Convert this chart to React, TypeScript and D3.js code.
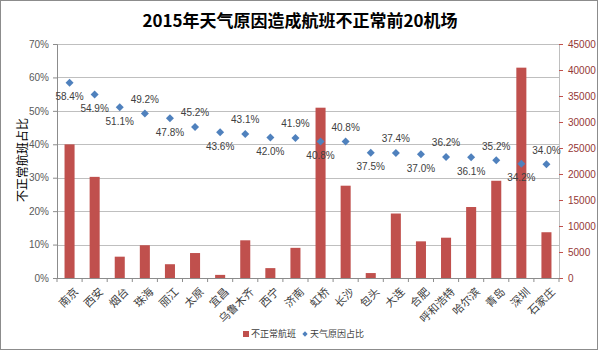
import React, { useEffect, useRef } from 'react';
import * as d3 from 'd3';

// Airports (x categories)
const airports = [
  '南京', '西安', '烟台', '珠海', '丽江', '太原', '宜昌', '乌鲁木齐', '西宁', '济南',
  '虹桥', '长沙', '包头', '大连', '合肥', '呼和浩特', '哈尔滨', '青岛', '深圳', '石家庄'
];

// 不正常航班 (right axis)
const abnormalFlights = [
  25700, 19450, 4100, 6300, 2650, 4800, 600, 7250, 1900, 5800,
  32750, 17750, 950, 12400, 7050, 7750, 13650, 18700, 40450, 8800
];

// 天气原因占比 (left axis, %)
const weatherShare = [
  58.4, 54.9, 51.1, 49.2, 47.8, 45.2, 43.6, 43.1, 42.0, 41.9,
  40.8, 40.8, 37.5, 37.4, 37.0, 36.2, 36.1, 35.2, 34.2, 34.0
];

const leftTicks = [0, 10, 20, 30, 40, 50, 60, 70];
const rightTicks = [0, 5000, 10000, 15000, 20000, 25000, 30000, 35000, 40000, 45000];

const title = '2015年天气原因造成航班不正常前20机场';
const yLabel = '不正常航班占比';
const barName = '不正常航班';
const pointName = '天气原因占比';

const W = 600;
const H = 351;
const CJK = '"Noto Sans CJK SC", "Noto Sans", sans-serif';

const App = () => {
  const ref = useRef<SVGSVGElement>(null);

  useEffect(() => {
    const svg = d3.select(ref.current);
    svg.selectAll('*').remove();

    const margin = { top: 44, right: 41, bottom: 73, left: 57 };
    const innerW = W - margin.left - margin.right;
    const innerH = H - margin.top - margin.bottom;

    // outer frame
    svg.append('rect')
      .attr('x', 0.5).attr('y', 0.5)
      .attr('width', W - 3).attr('height', H - 2)
      .attr('fill', '#fff')
      .attr('stroke', '#8c8c8c');

    svg.append('text')
      .attr('x', W / 2)
      .attr('y', 27)
      .attr('text-anchor', 'middle')
      .attr('font-family', CJK)
      .attr('font-weight', 'bold')
      .attr('font-size', '17px')
      .attr('fill', '#000')
      .text(title);

    const g = svg.append('g').attr('transform', `translate(${margin.left},${margin.top})`);

    const x = d3.scaleBand<string>()
      .domain(airports)
      .range([0, innerW])
      .paddingInner(0.6)
      .paddingOuter(0.3);
    const step = x.step();

    const yL = d3.scaleLinear().domain([0, 70]).range([innerH, 0]);
    const yR = d3.scaleLinear().domain([0, 45000]).range([innerH, 0]);

    // gridlines
    g.append('g')
      .selectAll('line')
      .data(leftTicks.filter(t => t > 0))
      .join('line')
      .attr('x1', 0).attr('x2', innerW)
      .attr('y1', d => Math.round(yL(d)) + 0.5)
      .attr('y2', d => Math.round(yL(d)) + 0.5)
      .attr('stroke', '#bfbfbf');

    // left axis
    const left = g.append('g')
      .call(d3.axisLeft(yL).tickValues(leftTicks).tickSize(4).tickPadding(4).tickFormat(d => `${d}%`));
    left.select('.domain').attr('stroke', '#8c8c8c');
    left.selectAll('line').attr('stroke', '#8c8c8c');
    left.selectAll('text')
      .attr('font-family', '"Liberation Sans", Arial, sans-serif')
      .attr('font-size', '10px')
      .attr('fill', '#595959');

    // right axis
    const right = g.append('g')
      .attr('transform', `translate(${innerW},0)`)
      .call(d3.axisRight(yR).tickValues(rightTicks).tickSize(4).tickPadding(5).tickFormat(d => `${d}`));
    right.select('.domain').attr('stroke', '#bfbfbf');
    right.selectAll('line').attr('stroke', '#c0504d');
    right.selectAll('text')
      .attr('font-family', '"Liberation Sans", Arial, sans-serif')
      .attr('font-size', '10px')
      .attr('fill', '#953735');

    // bars
    g.selectAll('.bar')
      .data(airports)
      .join('rect')
      .attr('class', 'bar')
      .attr('x', d => x(d) as number)
      .attr('width', x.bandwidth())
      .attr('y', (d, i) => yR(abnormalFlights[i]))
      .attr('height', (d, i) => innerH - yR(abnormalFlights[i]))
      .attr('fill', '#c0504d');

    // x axis line and ticks between categories
    g.append('line')
      .attr('x1', 0).attr('x2', innerW)
      .attr('y1', innerH + 0.5).attr('y2', innerH + 0.5)
      .attr('stroke', '#8c8c8c');
    g.append('g')
      .selectAll('line')
      .data(d3.range(airports.length + 1))
      .join('line')
      .attr('x1', i => i * step).attr('x2', i => i * step)
      .attr('y1', innerH).attr('y2', innerH + 4)
      .attr('stroke', '#8c8c8c');

    // category labels
    g.append('g')
      .selectAll('text')
      .data(airports)
      .join('text')
      .attr('transform', d => `translate(${(x(d) as number) + x.bandwidth() / 2 + 4},${innerH + 9}) rotate(-45)`)
      .attr('text-anchor', 'end')
      .attr('dy', '0.7em')
      .attr('font-family', CJK)
      .attr('font-size', '11px')
      .attr('fill', '#404040')
      .text(d => d);

    // diamonds (square turned 45deg)
    const diamond = d3.symbol().type(d3.symbolSquare).size(32);
    g.selectAll('.pt')
      .data(airports)
      .join('path')
      .attr('class', 'pt')
      .attr('d', diamond)
      .attr('transform', (d, i) => `translate(${(x(d) as number) + x.bandwidth() / 2},${yL(weatherShare[i])}) rotate(45)`)
      .attr('fill', '#4f81bd');

    // value labels: alternate below/above
    g.selectAll('.lbl')
      .data(airports)
      .join('text')
      .attr('class', 'lbl')
      .attr('x', d => (x(d) as number) + x.bandwidth() / 2)
      .attr('y', (d, i) => yL(weatherShare[i]) + (i >= 3 && i % 2 === 1 ? -14 : 14))
      .attr('dy', '0.35em')
      .attr('text-anchor', 'middle')
      .attr('font-family', '"Liberation Sans", Arial, sans-serif')
      .attr('font-size', '10px')
      .attr('fill', '#404040')
      .text((d, i) => `${weatherShare[i].toFixed(1)}%`);

    // y label
    svg.append('text')
      .attr('transform', `translate(23,${margin.top + 116}) rotate(-90)`)
      .attr('text-anchor', 'middle')
      .attr('dy', '0.35em')
      .attr('font-family', CJK)
      .attr('font-size', '12px')
      .attr('fill', '#000')
      .text(yLabel);

    // legend
    const lg = svg.append('g').attr('transform', 'translate(0,334)');
    lg.append('rect')
      .attr('x', 243).attr('y', -3).attr('width', 6).attr('height', 6)
      .attr('fill', '#c0504d');
    lg.append('text')
      .attr('x', 251).attr('dy', '0.35em')
      .attr('font-family', CJK).attr('font-size', '9px').attr('fill', '#404040')
      .text(barName);
    lg.append('path')
      .attr('d', d3.symbol().type(d3.symbolSquare).size(14))
      .attr('transform', 'translate(305,0) rotate(45)')
      .attr('fill', '#4f81bd');
    lg.append('text')
      .attr('x', 310).attr('dy', '0.35em')
      .attr('font-family', CJK).attr('font-size', '9px').attr('fill', '#404040')
      .text(pointName);
  }, []);

  return (
    <svg
      ref={ref}
      width={W}
      height={H}
      style={{ position: 'absolute', left: 0, top: 0, background: '#fff' }}
    />
  );
};

export default App;
